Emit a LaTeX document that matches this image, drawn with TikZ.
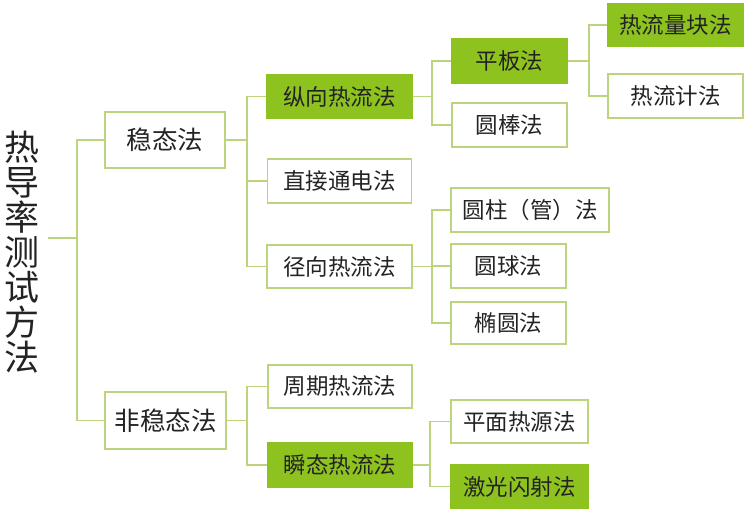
\documentclass[tikz,border=0pt]{standalone}
\usepackage{fontspec}
\newfontfamily\cjk{Noto Sans CJK SC}
\definecolor{gfill}{HTML}{8EC31F}
\definecolor{gline}{HTML}{BCD47E}
\definecolor{txt}{HTML}{232323}
\begin{document}
\begin{tikzpicture}[x=1pt,y=-1pt,
  box/.style={draw=gline, line width=1.3pt, inner sep=0pt, text=txt,
    font=\cjk\fontsize{22.5}{24}\selectfont},
  big/.style={box, font=\cjk\fontsize{25.5}{27}\selectfont},
  hot/.style={box, fill=gfill, draw=gfill},
  link/.style={draw=gline, line width=1.3pt}]
\useasboundingbox (0,0) rectangle (748,513);
% title
\node[text=txt, font=\cjk\fontsize{35}{35}\selectfont, align=center, inner sep=0pt]
  (T) at (22,252) {热\\导\\率\\测\\试\\方\\法};
\coordinate (r) at (48,238);
% bus coordinates
\coordinate (b0) at (77,0);
\coordinate (b1) at (247,0);
\coordinate (b2) at (432,0);
\coordinate (b3) at (589,0);
\coordinate (b4) at (432,0);
\coordinate (b5) at (430,0);
% level 1
\node[big, minimum width=120, minimum height=56] (A) at (165,140) {稳态法};
\node[big, minimum width=121, minimum height=57] (B) at (165.5,420.5) {非稳态法};
% level 2
\node[box, hot, minimum width=145, minimum height=43] (C) at (339.5,96.5) {纵向热流法};
\node[box, minimum width=144, minimum height=44] (D) at (339.5,181) {直接通电法};
\node[box, minimum width=145, minimum height=43] (E) at (339.5,266.5) {径向热流法};
\node[box, minimum width=144, minimum height=43] (F) at (340,386.5) {周期热流法};
\node[box, hot, minimum width=144, minimum height=44] (G) at (340,465) {瞬态热流法};
% level 3
\node[box, hot, minimum width=115, minimum height=44] (H) at (509.5,61) {平板法};
\node[box, minimum width=115, minimum height=44] (I) at (509.5,125) {圆棒法};
\node[box, minimum width=158, minimum height=44] (L) at (530,210) {圆柱（管）法};
\node[box, minimum width=115, minimum height=44] (M) at (508.5,266) {圆球法};
\node[box, minimum width=115, minimum height=42] (N) at (508.5,323) {椭圆法};
\node[box, minimum width=137, minimum height=43] (O) at (519.5,421.5) {平面热源法};
\node[box, hot, minimum width=137, minimum height=43] (P) at (519.5,486.5) {激光闪射法};
% level 4
\node[box, hot, minimum width=135, minimum height=42] (J) at (675.5,25) {热流量块法};
\node[box, minimum width=135, minimum height=44] (K) at (675.5,96) {热流计法};
% connectors
\draw[link] (r) -- (r -| b0);
\draw[link] (A.west) -| (r -| b0) |- (B.west);
\draw[link] (A.east) -- (A.east -| b1);
\draw[link] (C.west) -| (A.east -| b1) |- (E.west);
\draw[link] (D.west) -- (D.west -| b1);
\draw[link] (B.east) -- (B.east -| b1);
\draw[link] (F.west) -| (B.east -| b1) |- (G.west);
\draw[link] (C.east) -- (C.east -| b2);
\draw[link] (H.west) -| (C.east -| b2) |- (I.west);
\draw[link] (H.east) -- (H.east -| b3);
\draw[link] (J.west) -| (H.east -| b3) |- (K.west);
\draw[link] (E.east) -- (E.east -| b4);
\draw[link] (L.west) -| (E.east -| b4) |- (N.west);
\draw[link] (M.west) -- (M.west -| b4);
\draw[link] (G.east) -- (G.east -| b5);
\draw[link] (O.west) -| (G.east -| b5) |- (P.west);
\end{tikzpicture}
\end{document}
